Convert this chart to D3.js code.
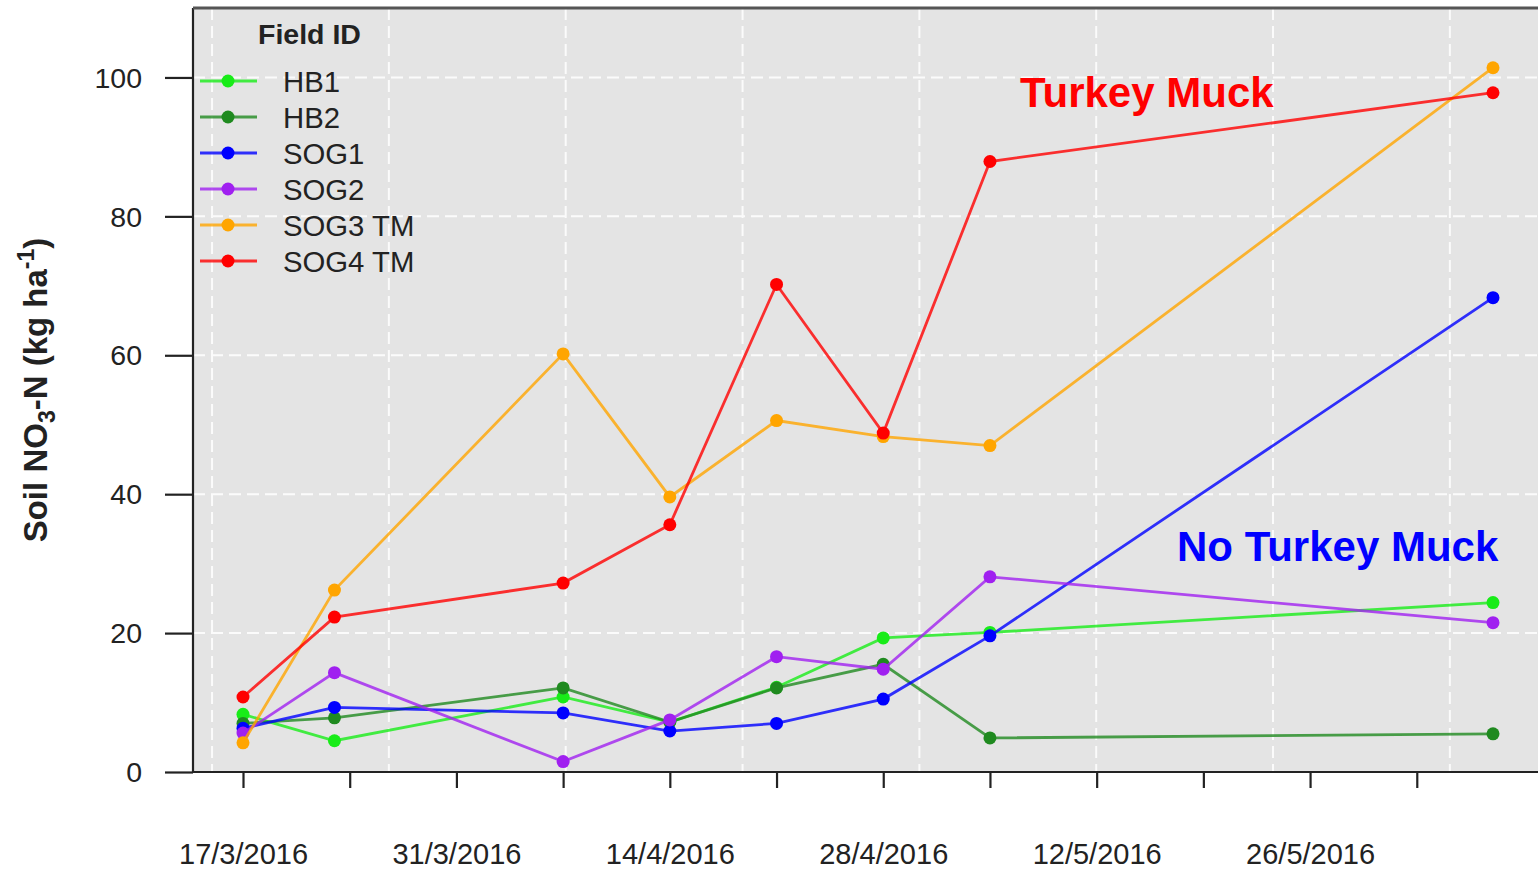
<!DOCTYPE html>
<html>
<head>
<meta charset="utf-8">
<script src="https://cdn.jsdelivr.net/npm/d3@7/dist/d3.min.js"></script>
<style>
  html, body { margin: 0; padding: 0; background: #fff; }
  svg { display: block; font-family: "Liberation Sans", Arial, Helvetica, sans-serif; }
</style>
</head>
<body>
<svg id="chart" width="1538" height="869"></svg>
<script>
// ---- Data ----
const dates = ["2016-03-17", "2016-03-23", "2016-04-07", "2016-04-14", "2016-04-21", "2016-04-28", "2016-05-05", "2016-06-07"];
const seriesNames = ["HB1", "HB2", "SOG1", "SOG2", "SOG3 TM", "SOG4 TM"];
const HB1  = [8.3, 4.5, 10.8, 7.2, 12.2, 19.3, 20.1, 24.4];
const HB2  = [7.0, 7.8, 12.1, 7.2, 12.1, 15.5, 4.9, 5.5];
const SOG1 = [6.3, 9.3, 8.5, 5.9, 7.0, 10.5, 19.6, 68.3];
const SOG2 = [5.6, 14.3, 1.5, 7.5, 16.6, 14.8, 28.1, 21.5];
const SOG3 = [4.2, 26.2, 60.2, 39.6, 50.6, 48.3, 47.0, 101.4];
const SOG4 = [10.8, 22.3, 27.2, 35.6, 70.2, 48.8, 87.9, 97.8];
const seriesValues = [HB1, HB2, SOG1, SOG2, SOG3, SOG4];
const seriesColors = ["#18ec18", "#1f8a1f", "#0000ff", "#a020f0", "#ffa500", "#ff0000"];
const yTicks = [0, 20, 40, 60, 80, 100];
const xTickDates = ["2016-03-17","2016-03-24","2016-03-31","2016-04-07","2016-04-14","2016-04-21","2016-04-28","2016-05-05","2016-05-12","2016-05-19","2016-05-26","2016-06-02"];
const xLabelDates = ["2016-03-17","2016-03-31","2016-04-14","2016-04-28","2016-05-12","2016-05-26"];
const annotations = [
  { text: "Turkey Muck", color: "#ff0000", dayOffset: 50.97, value: 95.8 },
  { text: "No Turkey Muck", color: "#0000ff", dayOffset: 61.27, value: 30.4 }
];

// ---- Setup ----
const parse = d3.utcParse("%Y-%m-%d");
const fmt = d3.utcFormat("%-d/%-m/%Y");
const DAY = 86400000;
const d0 = parse(dates[0]), d1 = parse(dates[dates.length - 1]);
const pad = (d1 - d0) * 0.04;

const pLeft = 193, pRight = 1543, pTop = 8, pBottom = 772;
const x = d3.scaleUtc().domain([new Date(+d0 - pad), new Date(+d1 + pad)]).range([pLeft, pRight]);
const y = d3.scaleLinear().domain([0, 110]).range([pBottom, pTop]);

const svg = d3.select("#chart");

// panel background
svg.append("rect").attr("x", pLeft).attr("y", pTop)
  .attr("width", pRight - pLeft).attr("height", pBottom - pTop)
  .attr("fill", "#e4e4e4");

// grid
const gridG = svg.append("g");
const gridDays = d3.range(8).map(i => -2.03 + i * 11.6);
gridG.selectAll("line.v").data(gridDays).join("line")
  .attr("x1", d => x(new Date(+d0 + d * DAY))).attr("x2", d => x(new Date(+d0 + d * DAY)))
  .attr("y1", pTop).attr("y2", pBottom)
  .attr("stroke", "#fbfbfb").attr("stroke-width", 2).attr("stroke-dasharray", "12,6");
gridG.selectAll("line.h").data(yTicks.slice(1)).join("line")
  .attr("x1", pLeft).attr("x2", pRight)
  .attr("y1", d => y(d)).attr("y2", d => y(d))
  .attr("stroke", "#fbfbfb").attr("stroke-width", 2).attr("stroke-dasharray", "12,6");

// axes
const isoFmt = d3.utcFormat("%Y-%m-%d");
const xAxis = d3.axisBottom(x)
  .tickValues(xTickDates.map(parse))
  .tickSize(16)
  .tickFormat(d => xLabelDates.includes(isoFmt(d)) ? fmt(d) : "");
const gx = svg.append("g").attr("transform", `translate(0,${pBottom})`).call(xAxis);
gx.select(".domain").remove();
gx.selectAll(".tick line").attr("stroke", "#222").attr("stroke-width", 2.2);
gx.selectAll(".tick text").attr("font-size", 29).attr("fill", "#222")
  .attr("font-family", "'Liberation Sans', Arial, sans-serif")
  .attr("y", 0).attr("dy", 92);
svg.append("line").attr("x1", pLeft - 1).attr("x2", 1538).attr("y1", pBottom).attr("y2", pBottom)
  .attr("stroke", "#222").attr("stroke-width", 2.2);

const yAxis = d3.axisLeft(y).tickValues(yTicks).tickSize(28).tickFormat(d3.format("d"));
const gy = svg.append("g").attr("transform", `translate(${pLeft},0)`).call(yAxis);
gy.select(".domain").remove();
gy.selectAll(".tick line").attr("stroke", "#222").attr("stroke-width", 2.2);
gy.selectAll(".tick text").attr("font-size", 28.5).attr("fill", "#222")
  .attr("font-family", "'Liberation Sans', Arial, sans-serif")
  .attr("x", -51).attr("dy", "0.34em");

// frame: left and top
svg.append("line").attr("x1", pLeft).attr("x2", pLeft).attr("y1", pTop).attr("y2", pBottom)
  .attr("stroke", "#222").attr("stroke-width", 2.2);
svg.append("line").attr("x1", pLeft).attr("x2", 1538).attr("y1", pTop).attr("y2", pTop)
  .attr("stroke", "#555").attr("stroke-width", 3);

// series
const line = d3.line().x((d, i) => x(parse(dates[i]))).y(d => y(d));
seriesValues.forEach((vals, k) => {
  const g = svg.append("g");
  g.append("path").attr("d", line(vals)).attr("fill", "none")
    .attr("stroke", seriesColors[k]).attr("stroke-width", 2.8).attr("stroke-opacity", 0.8);
  g.selectAll("circle").data(vals).join("circle")
    .attr("cx", (d, i) => x(parse(dates[i]))).attr("cy", d => y(d)).attr("r", 6.5)
    .attr("fill", seriesColors[k]);
});

// legend
const lg = svg.append("g");
lg.append("text").attr("x", 258).attr("y", 44).attr("font-size", 28.5).attr("font-weight", "bold")
  .attr("fill", "#222").text("Field ID");
seriesNames.forEach((n, k) => {
  const cy = 81 + k * 36;
  lg.append("line").attr("x1", 200).attr("x2", 257).attr("y1", cy).attr("y2", cy)
    .attr("stroke", seriesColors[k]).attr("stroke-width", 2.8).attr("stroke-opacity", 0.8);
  lg.append("circle").attr("cx", 228).attr("cy", cy).attr("r", 6.5).attr("fill", seriesColors[k]);
  lg.append("text").attr("x", 283).attr("y", cy).attr("dy", "0.36em")
    .attr("font-size", 29.3).attr("fill", "#222").text(n);
});

// annotations
annotations.forEach(a => {
  svg.append("text").attr("x", x(new Date(+d0 + a.dayOffset * DAY))).attr("y", y(a.value))
    .attr("font-size", 42).attr("font-weight", "bold").attr("fill", a.color).text(a.text);
});

// y title
const yt = svg.append("text").attr("transform", "translate(47,390) rotate(-90)")
  .attr("text-anchor", "middle").attr("font-size", 33).attr("font-weight", "bold").attr("fill", "#222");
yt.append("tspan").text("Soil NO");
yt.append("tspan").attr("font-size", 23).attr("dy", 8).text("3");
yt.append("tspan").attr("dy", -8).text("-N (kg ha");
yt.append("tspan").attr("font-size", 23).attr("dy", -13).text("-1");
yt.append("tspan").attr("dy", 13).text(")");
</script>
</body>
</html>
